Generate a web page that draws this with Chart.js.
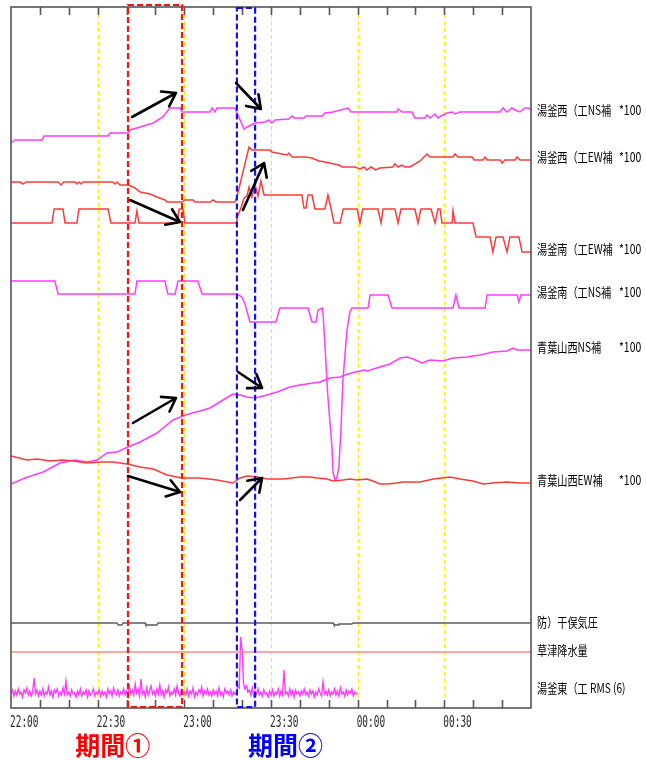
<!DOCTYPE html>
<html>
<head>
<meta charset="utf-8">
<script src="https://cdn.jsdelivr.net/npm/chart.js@4.4.1/dist/chart.umd.min.js"></script>
<style>
  html, body { margin: 0; padding: 0; background: #fff; }
</style>
</head>
<body>
<canvas id="tilt" width="646" height="760"></canvas>
<script>
// time axis: minutes after 22:00 (22:00 - 01:00)
const tickTimes = [0, 30, 60, 90, 120, 150];
const tickLabels = ['22:00', '22:30', '23:00', '23:30', '00:00', '00:30'];

// traces are stacked on one vertical scale (0 = bottom of the panel)
// 湯釜西（工NS補 *100
const ywNsT = [0, 1.4, 10.7, 11.4, 33.6, 34.3, 40.5, 41.2, 44.7, 49.2, 52.6, 55, 58.5, 59.2, 68.9, 69.6, 70.6, 71.3, 77.5, 79.3, 80.7, 81.7, 84.5, 87.9, 89.3, 90.3, 91.4, 96.2, 97.3, 98, 101.4, 102.1, 107.7, 108.7, 111.5, 116.7, 117.7, 133.6, 134, 135.3, 138.8, 139.8, 143.3, 144, 145, 146.8, 147.8, 149.5, 150.9, 152.7, 153.7, 155.4, 169.3, 170.3, 171.7, 173.4, 175.2, 176.2, 177.9, 179, 180];
const ywNsV = [565, 568, 568, 572, 572, 575, 575, 578, 581, 585, 591, 600, 600, 596, 596, 600, 596, 600, 600, 588, 579, 581, 585, 586, 588, 585, 588, 589, 592, 590, 590, 592, 592, 595, 596, 600, 596, 596, 599, 596, 596, 590, 590, 593, 590, 594, 590, 593, 595, 596, 594, 596, 596, 600, 596, 600, 597, 596, 600, 600, 598];

// 湯釜西（工EW補 *100
const ywEwT = [0, 3.1, 4.2, 5.2, 16.3, 17.3, 18.3, 22.2, 22.8, 23.5, 24.2, 24.9, 35.3, 36, 36.7, 37.7, 40.5, 42.9, 44.7, 48.1, 50.5, 53.3, 54, 59.2, 60.2, 63, 63.7, 68.9, 69.9, 71, 77.5, 78.2, 82.4, 83.4, 89.7, 90.3, 95.5, 96.2, 97.3, 101.8, 104.2, 106.6, 108.7, 113.5, 114.6, 119.1, 120.8, 122.2, 123.2, 124.6, 126.3, 127.7, 132.2, 132.9, 134, 135.3, 136.4, 138.1, 141.6, 144, 145, 153, 153.7, 154.7, 159.6, 160.3, 163.4, 164.1, 164.8, 169.3, 170, 171, 174.5, 175.2, 176.2, 180];
const ywEwV = [526, 526, 524, 526, 526, 523, 526, 526, 524, 526, 524, 526, 526, 524, 526, 523, 523, 520, 516, 514, 511, 508, 506, 506, 508, 508, 506, 506, 508, 506, 506, 511, 561, 558, 558, 556, 553, 555, 551, 551, 550, 547, 546, 543, 541, 541, 539, 541, 538, 541, 538, 540, 541, 544, 541, 543, 541, 541, 547, 554, 551, 551, 554, 551, 551, 548, 548, 551, 548, 548, 545, 548, 548, 551, 548, 548];

// 湯釜南（工EW補 *100
const ysEwT = [0, 14.2, 14.9, 18, 18.7, 22.8, 23.5, 33.6, 34.6, 42.9, 43.6, 44.3, 57.5, 58.2, 59.5, 60.2, 77.9, 78.2, 79.6, 80.7, 81.7, 82.4, 83.4, 84.5, 85.5, 86.5, 87.6, 100.7, 101.4, 102.1, 102.8, 104.2, 105.2, 108.7, 109.7, 110.8, 111.8, 113.9, 115, 119.8, 120.8, 121.8, 127, 128.1, 128.8, 132.9, 134, 135, 139.8, 140.9, 141.9, 145.4, 146.8, 147.8, 148.5, 149.2, 152.7, 153, 153.7, 159.9, 161, 165.8, 166.8, 167.9, 170.3, 171.7, 172.7, 175.8, 176.9, 180];
const ysEwV = [485, 485, 499, 499, 485, 485, 499, 499, 485, 485, 497, 485, 485, 499, 499, 485, 485, 490, 500, 510, 512, 521, 511, 523, 512, 527, 513, 513, 500, 500, 513, 513, 499, 499, 513, 499, 485, 485, 499, 499, 485, 499, 499, 485, 499, 499, 485, 499, 499, 485, 499, 499, 485, 499, 499, 485, 485, 497, 485, 485, 471, 471, 456, 471, 471, 456, 471, 471, 456, 456];

// 湯釜南（工NS補 *100
const ysNsT = [0, 15.2, 16.3, 42.9, 43.6, 53.3, 54.3, 56.8, 57.8, 64.7, 66.1, 78.2, 79.9, 81, 82.7, 91.7, 93.1, 102.8, 104.2, 105.6, 106.3, 107.7, 108, 108.7, 109.7, 111.1, 111.5, 112.2, 112.8, 113.5, 114.2, 114.9, 116.3, 117.3, 118, 123.6, 124.3, 130.5, 131.9, 153, 154, 155.1, 164.1, 164.8, 175.2, 175.8, 176.5, 180];
const ysNsV = [427, 427, 414, 414, 427, 427, 414, 414, 427, 427, 414, 414, 411, 404, 386, 386, 400, 400, 386, 386, 398, 400, 395, 361, 311, 261, 235, 228, 230, 241, 278, 328, 378, 396, 400, 400, 413, 413, 400, 400, 413, 400, 400, 413, 413, 406, 413, 413];

// 青葉山西NS補 *100
const aoNsT = [0, 4.8, 11.1, 17, 22.2, 26.3, 29.8, 33.2, 36.7, 40.5, 44.7, 50.5, 56.1, 59.5, 62.7, 65.4, 68.9, 73.4, 76.8, 79.3, 81.7, 84.5, 88.6, 92.1, 96.6, 100, 104.5, 107, 110.4, 113.9, 115.6, 119.1, 122.5, 123.2, 127.7, 131.2, 134.7, 137.1, 139.2, 142.3, 145, 149.5, 153, 157.8, 162.3, 166.8, 171.7, 173.8, 175.2, 180];
const aoNsV = [224, 230, 236, 245, 248, 246, 248, 255, 256, 261, 266, 275, 288, 292, 295, 297, 300, 308, 314, 313, 311, 310, 313, 316, 321, 323, 325, 326, 330, 331, 333, 336, 338, 337, 341, 344, 350, 351, 349, 345, 348, 347, 350, 351, 353, 356, 357, 360, 358, 358];

// 青葉山西EW補 *100
const aoEwT = [0, 1.4, 5.5, 9, 13.5, 18, 21.5, 26.3, 30.8, 35.3, 40.2, 44.7, 49.2, 54, 59.2, 65.4, 71.3, 76.8, 79.3, 81.7, 85.2, 88.6, 94.2, 100, 103.5, 105.9, 109.4, 111.5, 114.9, 117.3, 119.8, 123.2, 125.3, 127.7, 130.2, 133.6, 135.7, 141.6, 146.1, 152, 155.4, 159.9, 163.4, 166.8, 171.7, 176.2, 180];
const aoEwV = [252, 251, 248, 249, 247, 248, 247, 245, 246, 246, 244, 241, 239, 233, 230, 230, 228, 225, 230, 232, 231, 229, 229, 231, 231, 230, 229, 227, 228, 229, 228, 229, 227, 224, 224, 225, 226, 226, 229, 231, 229, 227, 224, 225, 226, 225, 225];

// 防）干俣気圧
const presT = [0, 36.7, 37.1, 38.4, 38.8, 46.4, 46.7, 50.5, 50.9, 111.5, 111.8, 113.2, 113.5, 118, 118.4, 180];
const presV = [85, 85, 83, 83, 85, 85, 83, 83, 85, 85, 83, 83, 84, 84, 85, 85];

// 草津降水量
const rainT = [0, 180];
const rainV = [56, 56];

// 湯釜東（工 RMS (6) - one sample every 30 s, 22:00 - 00:00
const rmsStep = 0.5;
const rmsV = [
  15, 18, 12, 17, 13, 19, 14, 16, 11, 18, 15, 20, 13, 17, 12, 16, 30, 14, 18, 12,
  17, 13, 19, 12, 16, 14, 21, 13, 17, 11, 18, 15, 19, 12, 16, 13, 20, 14, 27, 13,
  16, 12, 18, 14, 15, 11, 17, 13, 19, 12, 16, 14, 18, 11, 17, 13, 15, 19, 12, 16,
  14, 18, 12, 17, 13, 16, 11, 19, 14, 17, 12, 20, 15, 13, 18, 12, 16, 14, 19, 13,
  17, 12, 21, 14, 18, 13, 24, 15, 19, 12, 29, 14, 17, 11, 20, 13, 18, 22, 14, 17,
  12, 19, 14, 23, 13, 17, 11, 18, 15, 21, 12, 16, 14, 19, 13, 22, 15, 12, 18, 14,
  16, 13, 19, 12, 17, 14, 20, 11, 16, 13, 18, 15, 21, 12, 17, 14, 19, 13, 16, 12,
  18, 14, 17, 12, 20, 13, 16, 11, 19, 15, 17, 13, 18, 12, 16, 14, 15, 22, 20, 71,
  58, 24, 19, 22, 16, 18, 13, 20, 12, 17, 14, 19, 13, 16, 12, 18, 14, 15, 11, 17,
  13, 18, 12, 16, 14, 19, 12, 17, 13, 38, 14, 16, 12, 19, 13, 17, 11, 18, 14, 16,
  12, 17, 14, 19, 13, 16, 12, 18, 14, 17, 11, 16, 13, 19, 15, 12, 26, 14, 17, 13,
  18, 12, 16, 14, 19, 13, 17, 12, 20, 14, 16, 12, 18, 13, 17, 15, 19, 12, 16, 14,
  15
];

// right-hand channel names and the level each one sits at
const chNames = ['湯釜西（工NS補', '湯釜西（工EW補', '湯釜南（工EW補', '湯釜南（工NS補', '青葉山西NS補', '青葉山西EW補', '防）干俣気圧', '草津降水量', '湯釜東（工 RMS (6)'];
const chScale = ['*100', '*100', '*100', '*100', '*100', '*100', '', '', ''];
const chLevel = [598, 551, 459, 416, 361, 228, 86, 58, 20];

// highlighted periods (minutes) and the arrows inside them [t0, v0, t1, v1]
const period1 = [40.5, 59.2];
const period2 = [78.2, 84.5];
const arrowMarks = [
  [41.9, 591, 57.1, 615], [41.2, 508, 58.5, 486], [42.2, 285, 57.1, 310], [40.5, 232, 58.5, 216],
  [77.9, 625, 86.5, 599], [80.3, 498, 87.6, 545], [78.6, 336, 86.9, 320], [79.3, 208, 86.9, 230]
];

const MAGENTA = '#ff3cff';
const RED = '#ff3a3a';

function pts(t, v) {
  return t.map((m, i) => ({ x: m, y: v[i] }));
}

function line(t, v, color, w) {
  return {
    data: pts(t, v),
    borderColor: color,
    borderWidth: w || 1.5,
    pointRadius: 0,
    tension: 0,
    fill: false
  };
}

function drawArrow(ctx, x1, y1, x2, y2) {
  const a = Math.atan2(y2 - y1, x2 - x1);
  const h = 15, s = 0.6;
  ctx.beginPath();
  ctx.moveTo(x1, y1);
  ctx.lineTo(x2, y2);
  ctx.moveTo(x2 - h * Math.cos(a - s), y2 - h * Math.sin(a - s));
  ctx.lineTo(x2, y2);
  ctx.lineTo(x2 - h * Math.cos(a + s), y2 - h * Math.sin(a + s));
  ctx.stroke();
}

function squeezedText(ctx, txt, x, y, sx) {
  ctx.save();
  ctx.translate(x, y);
  ctx.scale(sx, 1);
  ctx.fillText(txt, 0, 0);
  ctx.restore();
}

// yellow half-hour guides behind the traces
const guides = {
  id: 'guides',
  beforeDatasetsDraw(chart) {
    const { ctx, chartArea: a, scales: { x } } = chart;
    ctx.save();
    ctx.strokeStyle = '#f5f000';
    ctx.lineWidth = 1;
    ctx.setLineDash([4, 3]);
    tickTimes.slice(1).forEach(t => {
      const px = Math.round(x.getPixelForValue(t)) + 0.5;
      ctx.beginPath();
      ctx.moveTo(px, a.top);
      ctx.lineTo(px, a.bottom);
      ctx.stroke();
    });
    ctx.restore();
  }
};

// frame, ticks, labels, period boxes and arrows
const overlay = {
  id: 'overlay',
  afterDatasetsDraw(chart) {
    const { ctx, chartArea: a, scales: { x, y } } = chart;
    ctx.save();

    // frame
    ctx.strokeStyle = '#555';
    ctx.lineWidth = 1.6;
    ctx.strokeRect(a.left, a.top, a.right - a.left, a.bottom - a.top);

    // 10 minute ticks, top and bottom
    ctx.beginPath();
    for (let t = 10; t < 180; t += 10) {
      const px = Math.round(x.getPixelForValue(t)) + 0.5;
      ctx.moveTo(px, a.top); ctx.lineTo(px, a.top + 8);
      ctx.moveTo(px, a.bottom); ctx.lineTo(px, a.bottom - 8);
    }
    ctx.stroke();

    // time labels
    ctx.fillStyle = '#2a2a2a';
    ctx.font = '15px "DejaVu Sans Mono"';
    ctx.textBaseline = 'middle';
    tickTimes.forEach((t, i) => {
      squeezedText(ctx, tickLabels[i], x.getPixelForValue(t) - 1, a.bottom + 15, 0.63);
    });

    // channel names on the right
    ctx.fillStyle = '#000';
    ctx.font = '13px "Noto Sans CJK JP"';
    chNames.forEach((n, i) => {
      const py = y.getPixelForValue(chLevel[i]);
      squeezedText(ctx, n, a.right + 6, py, 0.78);
      if (chScale[i]) squeezedText(ctx, chScale[i], a.right + 88, py, 0.8);
    });

    // period boxes
    ctx.lineWidth = 2.2;
    ctx.setLineDash([6, 3]);
    ctx.strokeStyle = '#ff1010';
    let l = x.getPixelForValue(period1[0]), r = x.getPixelForValue(period1[1]);
    ctx.strokeRect(l, a.top - 2, r - l, a.bottom - a.top + 1);
    ctx.strokeStyle = '#1010ff';
    l = x.getPixelForValue(period2[0]); r = x.getPixelForValue(period2[1]);
    ctx.strokeRect(l, a.top + 1, r - l, a.bottom - a.top - 2);
    ctx.setLineDash([]);

    // arrows
    ctx.strokeStyle = '#000';
    ctx.lineWidth = 2.6;
    ctx.lineCap = 'round';
    ctx.lineJoin = 'round';
    arrowMarks.forEach(m => {
      drawArrow(ctx, x.getPixelForValue(m[0]), y.getPixelForValue(m[1]),
        x.getPixelForValue(m[2]), y.getPixelForValue(m[3]));
    });

    // period captions
    ctx.font = 'bold 25px "Noto Sans CJK JP"';
    ctx.textBaseline = 'middle';
    ctx.fillStyle = '#ff0000';
    ctx.fillText('期間①', x.getPixelForValue(22.2), a.bottom + 37);
    ctx.fillStyle = '#0000ff';
    ctx.fillText('期間②', x.getPixelForValue(82), a.bottom + 37);

    ctx.restore();
  }
};

const rmsT = rmsV.map((_, i) => i * rmsStep);

new Chart(document.getElementById('tilt').getContext('2d'), {
  type: 'line',
  data: {
    datasets: [
      line(presT, presV, '#5c5c5c', 1.4),
      line(rainT, rainV, '#ff8a8a', 1.3),
      line(rmsT, rmsV, MAGENTA, 1.4),
      line(aoEwT, aoEwV, RED),
      line(aoNsT, aoNsV, MAGENTA),
      line(ysNsT, ysNsV, MAGENTA),
      line(ysEwT, ysEwV, RED),
      line(ywEwT, ywEwV, RED),
      line(ywNsT, ywNsV, MAGENTA)
    ]
  },
  options: {
    responsive: false,
    animation: false,
    layout: { padding: { left: 11, right: 115, top: 7, bottom: 52 } },
    scales: {
      x: { type: 'linear', min: 0, max: 180, display: false },
      y: { type: 'linear', min: 0, max: 701, display: false }
    },
    plugins: { legend: { display: false }, tooltip: { enabled: false } }
  },
  plugins: [guides, overlay]
});
</script>
</body>
</html>
